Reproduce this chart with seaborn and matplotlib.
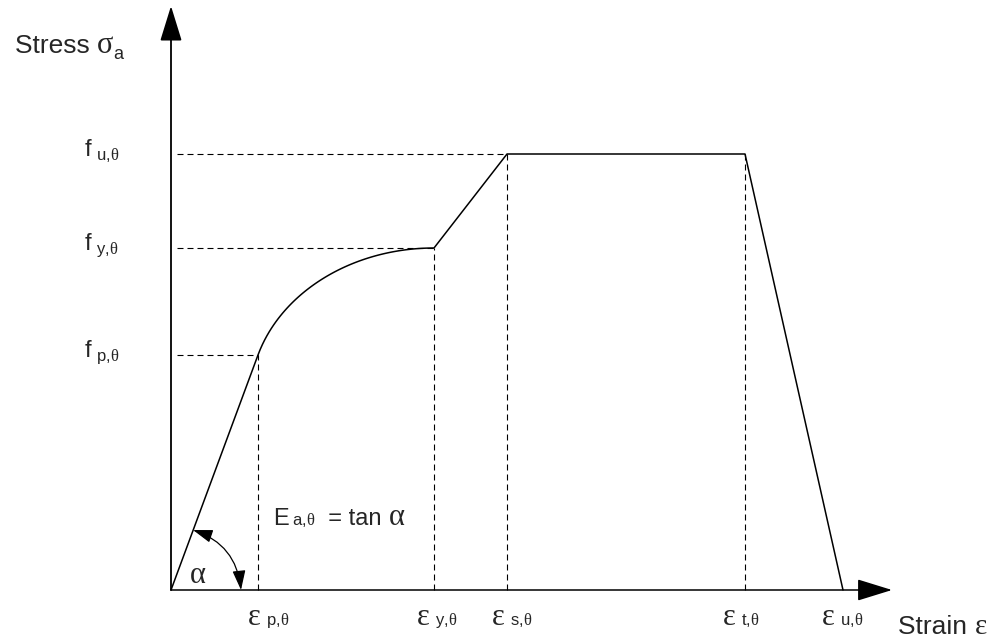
import numpy as np
import pandas as pd
import matplotlib
matplotlib.use('Agg')
import matplotlib.pyplot as plt
from matplotlib.transforms import IdentityTransform
import seaborn as sns

# schematic stress-strain law (arbitrary units, not to scale)
strain_names = ['p', 'y', 's', 't', 'u']
strain_marks = [87, 263, 336, 574, 672]
stress_names = ['p', 'y', 'u']
stress_marks = [235, 342, 436]

eps_p, eps_y, eps_s, eps_t, eps_u = strain_marks
f_p, f_y, f_u = stress_marks

# elliptic branch between proportional limit and yield (EN 1993-1-2 form)
E = f_p / eps_p
c = (f_y - f_p) ** 2 / ((eps_y - eps_p) * E - 2 * (f_y - f_p))
a = np.sqrt((eps_y - eps_p) * (eps_y - eps_p + c / E))
b = np.sqrt(c * (eps_y - eps_p) * E + c ** 2)
eps_curve = np.linspace(eps_p, eps_y, 80)
sig_curve = f_p - c + (b / a) * np.sqrt(a ** 2 - (eps_y - eps_curve) ** 2)

strain = np.concatenate([[0], eps_curve, [eps_s, eps_t, eps_u]])
stress = np.concatenate([[0], sig_curve, [f_u, f_u, 0]])
df = pd.DataFrame({'strain': strain, 'stress': stress})

sns.set_style('white')
plt.rcParams['font.family'] = ['Liberation Sans', 'DejaVu Sans']
plt.rcParams['mathtext.fontset'] = 'custom'
plt.rcParams['mathtext.rm'] = 'Liberation Sans'
plt.rcParams['mathtext.it'] = 'Liberation Serif'
plt.rcParams['mathtext.bf'] = 'Liberation Sans:bold'

fig = plt.figure(figsize=(9.95, 6.41), dpi=100)
ax = fig.add_axes([0, 0, 1, 1])
ax.set_xlim(-171, 824)
ax.set_ylim(-51, 590)
ax.axis('off')
renderer = fig.canvas.get_renderer()

SANS = 'Liberation Sans'
SERIF = 'Liberation Serif'


def compound(x, y, parts):
    # parts: (text, size, family, dy in px, gap in px), laid out left to right
    px, py = ax.transData.transform((x, y))
    for text, size, fam, dy, gap in parts:
        px += gap
        t = ax.text(px, py + dy, text, fontsize=size, family=fam,
                    ha='left', va='baseline', transform=IdentityTransform())
        px = t.get_window_extent(renderer).x1


sns.lineplot(data=df, x='strain', y='stress', sort=False, estimator=None,
             color='black', lw=1.1, ax=ax)

dash = (0, (5.4, 3.6))
stress_at = dict(zip(['p', 'y', 's', 't', 'u'], [f_p, f_y, f_u, f_u, 0]))
for name, x in zip(strain_names[:-1], strain_marks[:-1]):
    ax.plot([x, x], [0, stress_at[name]], color='black', lw=0.8, ls=dash)
for name, y, x in zip(stress_names, stress_marks, [eps_p, eps_y, eps_s]):
    ax.plot([6, x], [y, y], color='black', lw=0.8, ls=dash)

# axes with arrow heads
head = '-|>,head_length=2.2,head_width=0.68'
ax.annotate('', xy=(0, 584), xytext=(0, 0),
            arrowprops=dict(arrowstyle=head, mutation_scale=10, lw=1.3,
                            color='black', shrinkA=0, shrinkB=0))
ax.annotate('', xy=(721, 0), xytext=(0, 0),
            arrowprops=dict(arrowstyle=head, mutation_scale=10, lw=1.1,
                            color='black', shrinkA=0, shrinkB=0))

# angle arc
ax.annotate('', xy=(70, 0), xytext=(22, 60),
            arrowprops=dict(arrowstyle='<|-|>,head_length=1.2,head_width=0.4',
                            mutation_scale=10, lw=0.9, color='black',
                            shrinkA=0, shrinkB=0,
                            connectionstyle='arc3,rad=-0.32'))

# labels
theta_sub = r'$\mathrm{%s,}\!\theta$'
for name, y in zip(stress_names, stress_marks):
    compound(-86, y - 2, [('f', 17, SANS, 0, 0),
                          (theta_sub % name, 12, SANS, -4, 4)])

eps_dx = [-10, -17, -15, -22, -21]
for name, x, dx in zip(strain_names, strain_marks, eps_dx):
    compound(x + dx, -35, [('\u03b5', 22, SERIF, 0, 0),
                           (theta_sub % name, 12, SANS, 0, 5)])

compound(-156, 537, [('Stress ', 19, SANS, 0, 0),
                     ('\u03c3', 22, SERIF, 0, 0),
                     ('a', 13, SANS, -6, 0)])
compound(727, -44, [('Strain ', 19, SANS, 0, 0),
                    ('\u03b5', 21, SERIF, 0, 0)])
compound(102, 65, [('E', 17, SANS, 0, 0),
                   (r'$\mathrm{a,}\!\theta$', 12, SANS, 0, 3),
                   ('  = tan ', 17, SANS, 0, 0),
                   ('\u03b1', 22, SERIF, 0, 0)])
compound(19, 7, [('\u03b1', 22, SERIF, 0, 0)])

fig.savefig('out.png', dpi=100)
